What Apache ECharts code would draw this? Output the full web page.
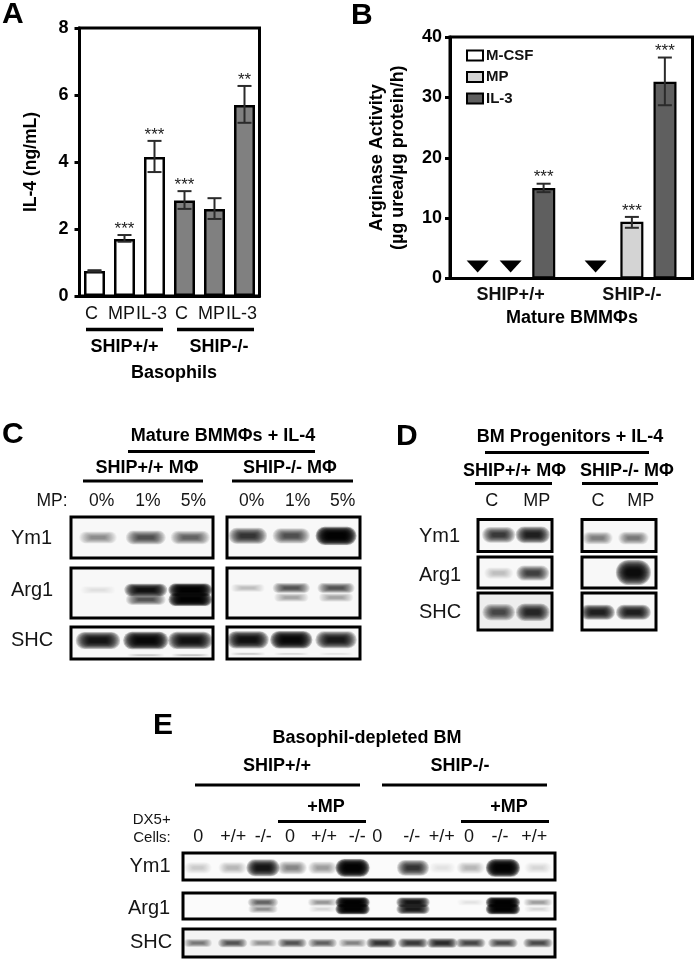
<!DOCTYPE html>
<html><head><meta charset="utf-8">
<style>html,body{margin:0;padding:0;background:#fff}#c{width:696px;height:960px;filter:blur(0.35px)}</style>
<script src="https://cdn.jsdelivr.net/npm/echarts@6/dist/echarts.min.js"></script>
</head><body><div id="c"></div>
<script>
// ---------- Panel A values ----------
const aCategories = ['C','MP','IL-3','C ','MP ','IL-3 '];
const aValues = [0.75,1.7,4.15,2.85,2.6,5.7];
const aErrHigh = [0.77,1.82,4.63,3.13,2.92,6.27];
const aErrLow = [0.73,1.62,3.7,2.6,2.3,5.17];
const aStars = ['','***','***','***','','**'];
// ---------- Panel B values ----------
const bCategories = ['SHIP+/+','SHIP-/-'];
const bMCSF = [null,null];
const bMP = [null,9.4];
const bIL3 = [15,32.6];
const bMPErr = [null,[10.2,8.4]];
const bIL3Err = [[15.7,14.3],[36.6,28.7]];
const bStarsMP = ['','***'];
const bStarsIL3 = ['***','***'];
const bNotDetected = [[0,-1],[0,0],[1,-1.1]];
const bNdLevel = 3;
// ---------- Blot band intensities (0 = none, 1 = saturated) ----------
const cYm1Wt = [0.32,0.58,0.5];   const cYm1Ko = [0.72,0.58,1];
const cArg1WtUp = [0.03,0.9,1];   const cArg1WtLo = [0,0.55,0.98];
const cArg1KoUp = [0.12,0.55,0.55]; const cArg1KoLo = [0,0.22,0.22];
const cShcWt = [0.88,0.95,0.9];   const cShcWtLo = [0,0.1,0.14];
const cShcKo = [0.9,0.95,0.85];   const cShcKoLo = [0.1,0.07,0.05];
const dYm1Wt = [0.68,0.82];  const dYm1Ko = [0.36,0.38];
const dArg1Wt = [0.14,0.65]; const dArg1Ko = [0,0.92];
const dShcWt = [0.62,0.78];  const dShcKo = [0.82,0.82];
const eYm1 = [0.1,0.16,0.88,0.35,0.26,1,0,0.72,0.03,0.16,1,0.06];
const eArg1Up = [0,0,0.48,0,0.28,1,0,0.88,0,0.05,1,0.26];
const eArg1Lo = [0,0,0.3,0,0.08,1,0,0.85,0,0,1,0.08];
const eShc = [0.38,0.55,0.28,0.55,0.5,0.33,0.72,0.68,0.75,0.62,0.6,0.6];

const FONT = '"Liberation Sans", Arial, sans-serif';
const grids = [], xAxes = [], yAxes = [], series = [];

// ---- error bars + stars (uses the axes of the chart) ----
function errorSeries(ax, rows, slotFrac){
  return {type:'custom', xAxisIndex:ax, yAxisIndex:ax, z:5, silent:true,
    encode:{x:0,y:1}, data:rows,
    renderItem(p, api){
      const c = api.value(0), hi = api.value(1), lo = api.value(2), slot = api.value(3);
      const dx = slot * slotFrac * api.size([1,0])[0];
      const a = api.coord([c,hi]), b = api.coord([c,lo]);
      const x = a[0] + dx, cap = 7;
      const st = {stroke:'#2b2b2b', lineWidth:2};
      const ch = [
        {type:'line', shape:{x1:x,y1:a[1],x2:x,y2:b[1]}, style:st},
        {type:'line', shape:{x1:x-cap,y1:a[1],x2:x+cap,y2:a[1]}, style:st},
        {type:'line', shape:{x1:x-cap,y1:b[1],x2:x+cap,y2:b[1]}, style:st}];
      const s = rows[p.dataIndex][4];
      if (s) ch.push({type:'text', style:{text:s, x:x, y:a[1]-6, align:'center', verticalAlign:'middle',
        textAlign:'center', textVerticalAlign:'middle', fill:'#222', font:'17px '+FONT}});
      return {type:'group', children:ch};
    }};
}

// ---- Panel A ----
grids.push({left:79.5,top:28,width:180,height:268,show:true,borderColor:'#000',borderWidth:3,backgroundColor:'#fff'});
xAxes.push({gridIndex:0,type:'category',data:aCategories,
  axisLine:{lineStyle:{color:'#000',width:3}},axisTick:{alignWithLabel:true,length:4,lineStyle:{color:'#000',width:3}},
  axisLabel:{color:'#111',fontFamily:FONT,fontSize:18,margin:9,padding:[0,6,0,0],interval:0,formatter:v=>v.trim()}});
yAxes.push({gridIndex:0,type:'value',min:0,max:8,interval:2,splitLine:{show:false},
  name:'IL-4 (ng/mL)',nameLocation:'middle',nameGap:39,nameRotate:90,
  nameTextStyle:{color:'#000',fontFamily:FONT,fontSize:17.5,fontWeight:'bold'},
  axisLine:{show:true,lineStyle:{color:'#000',width:3}},axisTick:{show:true,length:5,lineStyle:{color:'#000',width:3}},
  axisLabel:{color:'#000',fontFamily:FONT,fontSize:18,fontWeight:'bold',margin:11}});
series.push({type:'bar',name:'IL-4',xAxisIndex:0,yAxisIndex:0,barWidth:21,silent:true,z:3,
  data:aValues.map((v,i)=>({value:v,itemStyle:{color:i<3?'#ffffff':'#808080',borderColor:'#000',borderWidth:2.5}}))});
series.push(errorSeries(0, aValues.map((v,i)=>[i,aErrHigh[i],aErrLow[i],0,aStars[i]]), 0));

// ---- Panel B ----
grids.push({left:450,top:37,width:242.5,height:241.5,show:true,borderColor:'#000',borderWidth:3,backgroundColor:'#fff'});
xAxes.push({gridIndex:1,type:'category',data:bCategories,
  axisLine:{lineStyle:{color:'#000',width:3}},axisTick:{alignWithLabel:true,length:4,lineStyle:{color:'#000',width:3}},
  axisLabel:{color:'#111',fontFamily:FONT,fontSize:18,fontWeight:'bold',margin:8,interval:0}});
yAxes.push({gridIndex:1,type:'value',min:0,max:40,interval:10,splitLine:{show:false},
  name:'Arginase Activity\n(\u00b5g urea/\u00b5g protein/h)',nameLocation:'middle',nameGap:41,nameRotate:90,
  nameTextStyle:{color:'#000',fontFamily:FONT,fontSize:18,fontWeight:'bold',lineHeight:21},
  axisLine:{show:true,lineStyle:{color:'#000',width:3}},axisTick:{show:true,length:5,lineStyle:{color:'#000',width:3}},
  axisLabel:{color:'#000',fontFamily:FONT,fontSize:18,fontWeight:'bold',margin:8}});
const bBarStyle = c=>({color:c,borderColor:'#000',borderWidth:2.2});
series.push({type:'bar',name:'M-CSF',xAxisIndex:1,yAxisIndex:1,barWidth:23,barGap:'44%',data:bMCSF,itemStyle:bBarStyle('#ffffff'),silent:true,z:3});
series.push({type:'bar',name:'MP',xAxisIndex:1,yAxisIndex:1,barWidth:23,barGap:'44%',data:bMP,itemStyle:bBarStyle('#d4d4d4'),silent:true,z:3});
series.push({type:'bar',name:'IL-3',xAxisIndex:1,yAxisIndex:1,barWidth:23,barGap:'44%',data:bIL3,itemStyle:bBarStyle('#5f5f5f'),silent:true,z:3});
const bErrRows = [];
bMPErr.forEach((e,i)=>{ if(e) bErrRows.push([i,e[0],e[1],0,bStarsMP[i]]); });
bIL3Err.forEach((e,i)=>{ bErrRows.push([i,e[0],e[1],1,bStarsIL3[i]]); });
series.push(errorSeries(1, bErrRows, 0.272));
series.push({type:'custom',xAxisIndex:1,yAxisIndex:1,z:5,silent:true,encode:{x:0,y:1},
  data:bNotDetected.map(d=>[d[0],bNdLevel,d[1]]),
  renderItem(p,api){
    const top = api.coord([api.value(0),api.value(1)]), bot = api.coord([api.value(0),api.value(1)*0.33]);
    const x = top[0] + api.value(2)*0.272*api.size([1,0])[0];
    return {type:'polygon',shape:{points:[[x-11,top[1]],[x+11,top[1]],[x,bot[1]]]},style:{fill:'#000'}};
  }});

// ---- blots ----
function blot(box, lanes, bands, opt){
  const gi = grids.length;
  grids.push({left:box[0],top:box[1],width:box[2]-box[0],height:box[3]-box[1],show:true,borderColor:'#000',borderWidth:3,backgroundColor:opt.bg||'#f8f8f8'});
  xAxes.push({gridIndex:gi,type:'value',min:0,max:opt.n,show:false});
  yAxes.push({gridIndex:gi,type:'value',min:0,max:1,inverse:true,show:false});
  bands.forEach(b=>{
    series.push({type:'custom',xAxisIndex:gi,yAxisIndex:gi,silent:true,z:4,clip:true,encode:{x:0,y:1},
      data:lanes.map((l,i)=>[l,b.y,b.v[i]]).filter(r=>r[2]>0),
      renderItem(p,api){
        const i = api.value(2), c = api.coord([api.value(0),api.value(1)]);
        const size = api.size([1,1]);
        const rx = size[0]*(b.w||opt.w)*(0.8+0.2*i);
        const ry = size[1]*(b.h||opt.h)*(0.62+0.38*i);
        const peak = Math.min(0.985,Math.pow(i,0.75));
        const n = 12, a = 1-Math.pow(1-peak,1/n);
        const ch = [];
        for(let k=0;k<n;k++){
          const w=rx*(1-k*0.055), h=ry*(1-k*0.07);
          ch.push({type:'rect',shape:{x:c[0]-w,y:c[1]-h,width:2*w,height:2*h,r:h},
            style:{fill:'rgba(0,0,0,'+a.toFixed(3)+')',shadowBlur:k==0?2:0,shadowColor:'rgba(0,0,0,'+a.toFixed(3)+')'}});
        }
        return {type:'group',children:ch};
      }});
  });
}
// Panel C
const cL=[0.57,1.58,2.52], cR=[0.47,1.45,2.46];
blot([71,517,213,558],cL,[{y:0.5,v:cYm1Wt}],{n:3,w:0.46,h:0.2});
blot([227,517,360,558],cR,[{y:0.46,v:cYm1Ko}],{n:3,w:0.46,h:0.22});
blot([71,568,213,618],cL,[{y:0.44,v:cArg1WtUp},{y:0.63,v:cArg1WtLo}],{n:3,w:0.46,h:0.13});
blot([227,568,360,618],cR,[{y:0.4,v:cArg1KoUp},{y:0.59,v:cArg1KoLo}],{n:3,w:0.46,h:0.12});
blot([71,627,213,659],cL,[{y:0.42,v:cShcWt},{y:0.88,v:cShcWtLo,h:0.07}],{n:3,w:0.48,h:0.28});
blot([227,627,360,659],cR,[{y:0.4,v:cShcKo},{y:0.84,v:cShcKoLo,h:0.07}],{n:3,w:0.48,h:0.28});
// Panel D
const dL=[0.56,1.48], dR=[0.42,1.39];
blot([478,519.5,552,551.5],dL,[{y:0.48,v:dYm1Wt}],{n:2,w:0.48,h:0.28});
blot([582,519.5,656,551.5],dR,[{y:0.58,v:dYm1Ko}],{n:2,w:0.47,h:0.26});
blot([478,557,552,588],dL,[{y:0.52,v:dArg1Wt}],{n:2,w:0.48,h:0.28});
blot([582,557,656,588],dR,[{y:0.5,v:dArg1Ko}],{n:2,w:0.48,h:0.42});
blot([478,593,552,630],dL,[{y:0.52,v:dShcWt}],{n:2,w:0.48,h:0.26,bg:'#eeeeee'});
blot([582,593,656,630],dR,[{y:0.52,v:dShcKo}],{n:2,w:0.49,h:0.22});
// Panel E
const eL=[0.48,1.6,2.58,3.52,4.5,5.47,6.4,7.42,8.36,9.28,10.32,11.45];
blot([183,853,555,880],eL,[{y:0.55,v:eYm1}],{n:12,w:0.55,h:0.33,bg:'#fbfbfb'});
blot([183,893,555,919],eL,[{y:0.36,v:eArg1Up},{y:0.62,v:eArg1Lo}],{n:12,w:0.55,h:0.2,bg:'#fbfbfb'});
blot([183,929,555,957],eL,[{y:0.5,v:eShc}],{n:12,w:0.52,h:0.19,bg:'#f4f4f4'});

// ---- annotations ----
const T = [];
function txt(text,x,y,size,bold,align,rot){
  T.push({type:'text',x,y,rotation:rot||0,z:20,silent:true,style:{text,
    font:(bold?'bold ':'')+size+'px '+FONT,fill:bold?'#000':'#151515',
    align:align||'center',verticalAlign:'middle',textAlign:align||'center',textVerticalAlign:'middle'}});
}
function rule(x1,x2,y,w){ T.push({type:'line',z:20,silent:true,shape:{x1,y1:y,x2,y2:y},style:{stroke:'#000',lineWidth:w||3.5}}); }
[['A',2,14.5],['B',351,15.5],['C',2,435],['D',396,437],['E',153,726]].forEach(l=>txt(l[0],l[1],l[2],30,true,'left'));
// A
rule(86,163,329.5); rule(177,254,329.5);
txt('SHIP+/+',124.5,347,18,true); txt('SHIP-/-',219,347,18,true); txt('Basophils',174,373,18,true);
// B
txt('Mature BMM\u03a6s',572,318,18,true);
// C
txt('Mature BMM\u03a6s + IL-4',223,436,18,true); rule(128,315,451.5,3);
txt('SHIP+/+ M\u03a6',147,468,18,true); txt('SHIP-/- M\u03a6',290,468,18,true);
rule(83,203,481,3); rule(232,353,481,3);
txt('MP:',67.5,501,17.5,false,'right');
[[101.7,'0%'],[148,'1%'],[193.3,'5%'],[251.7,'0%'],[297.7,'1%'],[342.7,'5%']].forEach(d=>txt(d[1],d[0],501,17.5,false));
txt('Ym1',11,538,20,false,'left'); txt('Arg1',11,590,20,false,'left'); txt('SHC',11,640,20,false,'left');
// D
txt('BM Progenitors + IL-4',570,437,18,true); rule(485,649,452.5,3);
txt('SHIP+/+ M\u03a6',514.5,471,18,true); txt('SHIP-/- M\u03a6',627,471,18,true);
rule(475,552,483.5,3); rule(582,658,483.5,3);
[[491.7,'C'],[536.7,'MP'],[598,'C'],[640.7,'MP']].forEach(d=>txt(d[1],d[0],501,18,false));
txt('Ym1',419,536,20,false,'left'); txt('Arg1',419,575,20,false,'left'); txt('SHC',419,612,20,false,'left');
// E
txt('Basophil-depleted BM',367,738,18,true);
txt('SHIP+/+',277,766,18,true); txt('SHIP-/-',460,766,18,true);
rule(195,360,785,3); rule(382,547,785,3);
txt('+MP',326,807,18,true); txt('+MP',509,807,18,true);
rule(278,366,821.5,3); rule(461,549,821.5,3);
txt('DX5+',151.7,820,15,false); txt('Cells:',152,838,15,false);
[[198.3,'0'],[233.3,'+/+'],[263.3,'-/-'],[290,'0'],[324,'+/+'],[357.3,'-/-'],[377.3,'0'],[411.7,'-/-'],[441.7,'+/+'],[469,'0'],[500,'-/-'],[534.3,'+/+']]
  .forEach(d=>txt(d[1],d[0],837,18,false));
txt('Ym1',129.5,866,20,false,'left'); txt('Arg1',128,908,20,false,'left'); txt('SHC',130,942,20,false,'left');

const chart = echarts.init(document.getElementById('c'),null,{renderer:'canvas',width:696,height:960});
chart.setOption({
  animation:false,backgroundColor:'#fff',
  grid:grids,xAxis:xAxes,yAxis:yAxes,series,
  legend:{show:true,data:['M-CSF','MP','IL-3'],orient:'vertical',left:461,top:43,icon:'rect',itemWidth:16,itemHeight:10,itemGap:6.5,selectedMode:false,
    textStyle:{fontFamily:FONT,fontWeight:'bold',fontSize:15,color:'#111',padding:[0,0,0,-2]}},
  graphic:{elements:T}
});
</script></body></html>
